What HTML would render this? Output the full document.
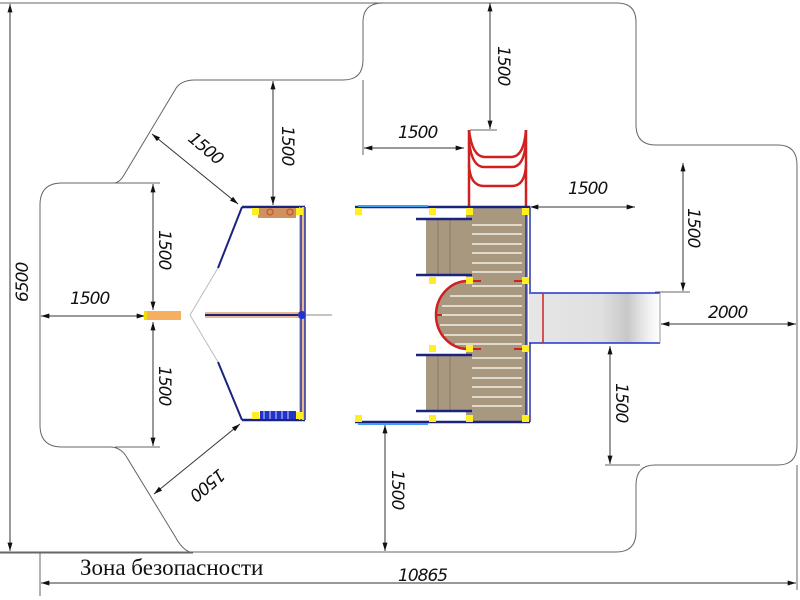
<!DOCTYPE html>
<html><head><meta charset="utf-8"><style>
html,body{margin:0;padding:0;background:#fff;width:800px;height:600px;overflow:hidden}
svg{display:block}
.d{font-family:"DejaVu Sans","Liberation Sans",sans-serif;font-style:italic;font-size:17px;fill:#111;letter-spacing:-1px}
</style></head><body>
<svg width="800" height="600" viewBox="0 0 800 600" xmlns="http://www.w3.org/2000/svg">
<defs>
<marker id="a" viewBox="0 0 10 6" refX="10" refY="3" markerWidth="12" markerHeight="5" orient="auto-start-reverse" markerUnits="userSpaceOnUse"><path d="M0,0 L10,3 L0,6 Z" fill="#111"/></marker>
<linearGradient id="sl" x1="0" x2="1"><stop offset="0" stop-color="#e6e6e6"/><stop offset="0.55" stop-color="#e0e0e0"/><stop offset="0.75" stop-color="#c8c8c8"/><stop offset="0.9" stop-color="#eee"/><stop offset="1" stop-color="#fff"/></linearGradient>
</defs>
<g fill="none" stroke="#666" stroke-width="1">
<path d="M0,3 H383 M383,3 H617 Q636,3 636,22 V125 Q636,145 656,145 H778 Q797,145 797,165 V445 Q797,465 778,465 H655 Q636,465 636,485 V532 Q636,552 616,552 H0"/>
<path d="M0,553 H193 Q183,551 176,538 L126,456 Q120,447 110,447 H62 Q40,447 40,425 V205 Q40,183 62,183 H115 Q120,182 124,175 L175,90 Q180,80 195,80 H343 Q363,80 363,60 V22 Q363,3 383,3"/>
<line x1="40" y1="553" x2="40" y2="596"/>
<line x1="363" y1="80" x2="363" y2="155"/>
<line x1="115" y1="183" x2="160" y2="183"/>
<line x1="115" y1="447" x2="160" y2="447"/>
<line x1="470" y1="130" x2="497" y2="130"/>
<line x1="655" y1="292" x2="690" y2="292"/>
<line x1="605" y1="465" x2="640" y2="465"/>
<line x1="797" y1="465" x2="797" y2="590"/>
</g>
<g stroke="#333" stroke-width="1" fill="none" marker-start="url(#a)" marker-end="url(#a)">
<line x1="10" y1="4" x2="10" y2="551"/>
<line x1="41" y1="583" x2="796" y2="583"/>
<line x1="364" y1="148" x2="464" y2="148"/>
<line x1="273" y1="81" x2="273" y2="205"/>
<line x1="152" y1="134" x2="238" y2="204"/>
<line x1="153" y1="184" x2="153" y2="310"/>
<line x1="153" y1="322" x2="153" y2="446"/>
<line x1="41" y1="316" x2="145" y2="316"/>
<line x1="154" y1="494" x2="240" y2="424"/>
<line x1="385" y1="425" x2="385" y2="551"/>
<line x1="490" y1="3" x2="490" y2="129"/>
<line x1="530" y1="207" x2="635" y2="207"/>
<line x1="683" y1="163" x2="683" y2="291"/>
<line x1="661" y1="324" x2="796" y2="324"/>
<line x1="610" y1="346" x2="610" y2="464"/>
</g>
<g class="d">
<text x="398" y="138">1500</text>
<text x="568" y="194">1500</text>
<text x="708" y="318">2000</text>
<text x="70" y="304">1500</text>
<text x="398" y="581">10865</text>
<text transform="translate(28,302) rotate(-90)">6500</text>
<text transform="translate(282,126) rotate(90)">1500</text>
<text transform="translate(498,46) rotate(90)">1500</text>
<text transform="translate(159,230) rotate(90)">1500</text>
<text transform="translate(159,366) rotate(90)">1500</text>
<text transform="translate(688,208) rotate(90)">1500</text>
<text transform="translate(616,383) rotate(90)">1500</text>
<text transform="translate(392,470) rotate(90)">1500</text>
<text transform="translate(187,140) rotate(40)">1500</text>
<text transform="translate(219,468) rotate(140)">1500</text>
</g>
<text x="80" y="575" font-family="Liberation Serif,serif" font-size="23" fill="#111">Зона безопасности</text>

<g>
<line x1="242" y1="207" x2="305" y2="207" stroke="#1a237e" stroke-width="2.5"/>
<line x1="242" y1="420" x2="305" y2="420" stroke="#1a237e" stroke-width="2.5"/>
<line x1="242" y1="207" x2="218" y2="268" stroke="#1a237e" stroke-width="2"/>
<line x1="218" y1="268" x2="190" y2="315" stroke="#bbb" stroke-width="1"/>
<line x1="190" y1="315" x2="218" y2="362" stroke="#bbb" stroke-width="1"/>
<line x1="218" y1="362" x2="242" y2="420" stroke="#1a237e" stroke-width="2"/>
<rect x="299" y="207" width="6" height="213" fill="#e8b890"/>
<line x1="301" y1="207" x2="301" y2="420" stroke="#2233aa" stroke-width="1.5"/>
<line x1="305" y1="207" x2="305" y2="420" stroke="#2233aa" stroke-width="1.5"/>
<rect x="205" y="312" width="95" height="6" fill="#e8b890"/>
<line x1="205" y1="315" x2="298" y2="315" stroke="#1a237e" stroke-width="2"/>
<circle cx="302" cy="315" r="4" fill="#2233cc"/>
<line x1="305" y1="315" x2="332" y2="315" stroke="#888" stroke-width="1"/>
<rect x="146" y="311" width="35" height="9" fill="#f4b060"/>
<rect x="144" y="311" width="3" height="9" fill="#f0e000"/>
<rect x="258" y="208" width="38" height="10" fill="#d09060"/>
<circle cx="270" cy="212" r="3" fill="none" stroke="#c05020"/><circle cx="290" cy="212" r="3" fill="none" stroke="#c05020"/>
<rect x="260" y="411" width="36" height="8" fill="#2233cc"/>
<g stroke="#fff" stroke-width="0.8"><line x1="264" y1="411" x2="264" y2="419"/><line x1="270" y1="411" x2="270" y2="419"/><line x1="276" y1="411" x2="276" y2="419"/><line x1="282" y1="411" x2="282" y2="419"/><line x1="288" y1="411" x2="288" y2="419"/></g>
<g fill="#ffee22"><rect x="252" y="208" width="7" height="7"/><rect x="296" y="208" width="7" height="7"/><rect x="252" y="412" width="7" height="7"/><rect x="296" y="412" width="7" height="7"/></g>
</g>

<g>
<g stroke="#d02020" stroke-width="2.5" fill="none">
<line x1="469" y1="130" x2="469" y2="207"/><line x1="526" y1="130" x2="526" y2="207"/>
<path d="M469,130 Q472,156 484,157 H512 Q524,156 526,130"/>
<path d="M469,142 Q472,167 484,167 H512 Q524,167 526,142"/>
<path d="M469,165 Q470,186 484,186 H512 Q525,186 526,165"/>
</g>
<rect x="466" y="208" width="62" height="214" fill="#a89880"/>
<path d="M468,281 A32,34 0 0 0 468,349 Z" fill="#a89880"/>
<g stroke="#f4efe6" stroke-width="1.5">
<line x1="472" y1="225" x2="522" y2="225"/><line x1="472" y1="234" x2="522" y2="234"/><line x1="472" y1="244" x2="522" y2="244"/><line x1="472" y1="253" x2="522" y2="253"/><line x1="472" y1="263" x2="522" y2="263"/><line x1="472" y1="272" x2="522" y2="272"/>
<line x1="472" y1="286" x2="522" y2="286"/><line x1="450" y1="296" x2="522" y2="296"/><line x1="442" y1="306" x2="522" y2="306"/><line x1="440" y1="315" x2="522" y2="315"/><line x1="440" y1="325" x2="522" y2="325"/><line x1="444" y1="335" x2="522" y2="335"/><line x1="455" y1="344" x2="522" y2="344"/>
<line x1="472" y1="358" x2="522" y2="358"/><line x1="472" y1="368" x2="522" y2="368"/><line x1="472" y1="378" x2="522" y2="378"/><line x1="472" y1="387" x2="522" y2="387"/><line x1="472" y1="397" x2="522" y2="397"/><line x1="472" y1="406" x2="522" y2="406"/>
</g>
<path d="M468,281 A32,34 0 0 0 468,349" fill="none" stroke="#d02020" stroke-width="2.5"/>
<line x1="436" y1="315" x2="442" y2="315" stroke="#d02020" stroke-width="2"/>
<g stroke="#d02020" stroke-width="2"><line x1="472" y1="281" x2="481" y2="281"/><line x1="514" y1="281" x2="522" y2="281"/><line x1="472" y1="349" x2="481" y2="349"/><line x1="514" y1="349" x2="522" y2="349"/></g>
<rect x="426" y="220" width="40" height="55" fill="#a89880"/>
<rect x="426" y="356" width="40" height="55" fill="#a89880"/>
<g stroke="#887860" stroke-width="1"><line x1="438" y1="220" x2="438" y2="275"/><line x1="450" y1="220" x2="450" y2="275"/><line x1="438" y1="356" x2="438" y2="411"/><line x1="450" y1="356" x2="450" y2="411"/></g>
<g stroke="#1a237e" stroke-width="2.5"><line x1="416" y1="219" x2="472" y2="219"/><line x1="416" y1="275" x2="472" y2="275"/><line x1="416" y1="355" x2="472" y2="355"/><line x1="416" y1="411" x2="472" y2="411"/></g>
<line x1="355" y1="207" x2="530" y2="207" stroke="#1a237e" stroke-width="2.5"/>
<line x1="358" y1="206" x2="428" y2="206" stroke="#3fa0f0" stroke-width="2"/>
<line x1="355" y1="422" x2="530" y2="422" stroke="#1a237e" stroke-width="2.5"/>
<line x1="358" y1="424" x2="428" y2="424" stroke="#3fa0f0" stroke-width="2"/>
<line x1="526" y1="208" x2="526" y2="422" stroke="#2233aa" stroke-width="1.5"/>
<line x1="530" y1="208" x2="530" y2="292" stroke="#2233aa" stroke-width="1.5"/>
<line x1="530" y1="343" x2="530" y2="422" stroke="#2233aa" stroke-width="1.5"/>
<rect x="529" y="293" width="131" height="50" fill="url(#sl)"/>
<line x1="529" y1="293" x2="660" y2="293" stroke="#2233cc" stroke-width="1.5"/>
<line x1="529" y1="343" x2="660" y2="343" stroke="#2233cc" stroke-width="1.5"/>
<line x1="660" y1="293" x2="660" y2="343" stroke="#999" stroke-width="1"/>
<line x1="543" y1="293" x2="543" y2="343" stroke="#d02020" stroke-width="1.5"/>
<g fill="#ffee22">
<rect x="355" y="208" width="7" height="7"/><rect x="429" y="208" width="7" height="7"/><rect x="466" y="208" width="7" height="7"/><rect x="522" y="208" width="7" height="7"/>
<rect x="429" y="277" width="7" height="7"/><rect x="466" y="277" width="7" height="7"/><rect x="522" y="277" width="7" height="7"/>
<rect x="429" y="345" width="7" height="7"/><rect x="466" y="345" width="7" height="7"/><rect x="522" y="345" width="7" height="7"/>
<rect x="355" y="415" width="7" height="7"/><rect x="429" y="415" width="7" height="7"/><rect x="466" y="415" width="7" height="7"/><rect x="522" y="415" width="7" height="7"/>
</g>
</g>
</svg>
</body></html>
